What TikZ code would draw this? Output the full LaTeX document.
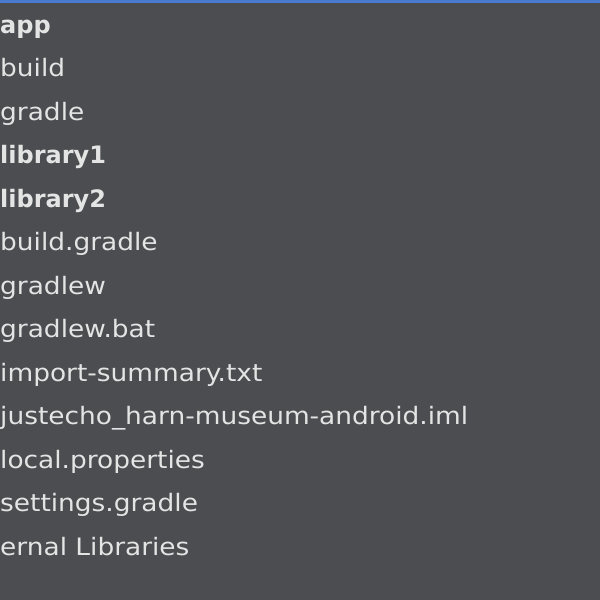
\documentclass[tikz,border=0pt]{standalone}
\usepackage{fontspec}
\setmainfont{DejaVu Sans}[FakeStretch=1.1, BoldFeatures={FakeStretch=1.0}]
\usepackage{xcolor}
\usetikzlibrary{positioning}

\definecolor{panebg}{RGB}{75,77,80}
\definecolor{panetext}{RGB}{228,228,228}
\definecolor{selblue}{RGB}{74,122,206}

\begin{document}
\begin{tikzpicture}[
    x=1pt, y=1pt,
    node distance=43.5pt,
    entry/.style={inner sep=0pt, text=panetext, font=\fontsize{24}{28}\selectfont},
    folder/.style={entry, font=\fontsize{24}{28}\selectfont\bfseries}
]
\useasboundingbox (0,0) rectangle (600,-600);

% Background and top highlight
\fill[panebg] (0,0) rectangle (600,-600);
\fill[selblue] (0,0) rectangle (600,-3);

% Tree entries
\node[folder, anchor=base west] (app) at (0,-33) {app};
\node[entry, below=of app.base west, anchor=base west] (build) {build};
\node[entry, below=of build.base west, anchor=base west] (gradle) {gradle};
\node[folder, below=of gradle.base west, anchor=base west] (lib1) {library1};
\node[folder, below=of lib1.base west, anchor=base west] (lib2) {library2};
\node[entry, below=of lib2.base west, anchor=base west] (bgradle) {build.gradle};
\node[entry, below=of bgradle.base west, anchor=base west] (gradlew) {gradlew};
\node[entry, below=of gradlew.base west, anchor=base west] (gbat) {gradlew.bat};
\node[entry, below=of gbat.base west, anchor=base west] (summary) {import-summary.txt};
\node[entry, below=of summary.base west, anchor=base west] (iml) {justecho\_harn-museum-android.iml};
\node[entry, below=of iml.base west, anchor=base west] (local) {local.properties};
\node[entry, below=of local.base west, anchor=base west] (settings) {settings.gradle};
\node[entry, below=of settings.base west, anchor=base west] (extlib) {ernal Libraries};

\end{tikzpicture}
\end{document}
